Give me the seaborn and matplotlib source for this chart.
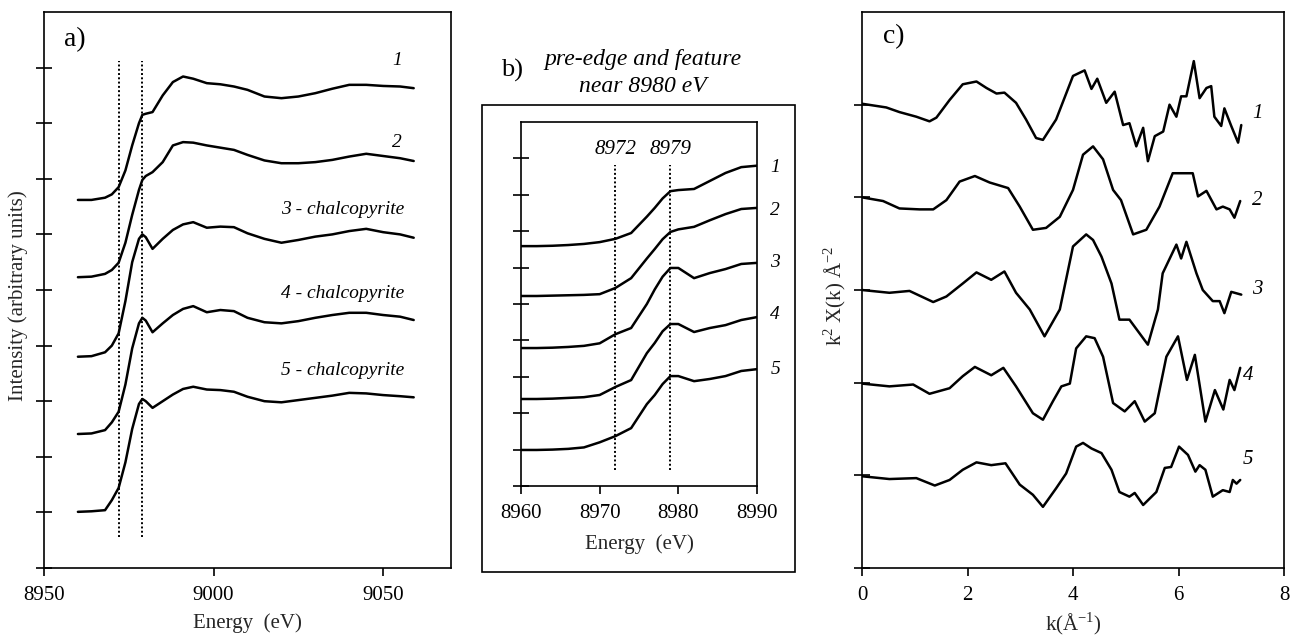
import numpy as np
import pandas as pd
import matplotlib
matplotlib.use("Agg")
import matplotlib.pyplot as plt
from matplotlib.patches import Rectangle
import seaborn as sns

# ---------------- data: panel a (XANES, full range) ----------------
energy_a = [8960, 8964, 8968, 8970, 8972, 8974, 8976, 8978, 8979, 8980, 8982, 8985,
            8988, 8991, 8994, 8998, 9002, 9006, 9010, 9015, 9020, 9025, 9030, 9035,
            9040, 9045, 9050, 9055, 9059]
a_curve1 = [6.62, 6.62, 6.66, 6.72, 6.85, 7.15, 7.60, 8.00, 8.15, 8.17, 8.20, 8.50,
            8.74, 8.84, 8.80, 8.72, 8.70, 8.66, 8.60, 8.48, 8.45, 8.48, 8.54, 8.62,
            8.69, 8.69, 8.67, 8.66, 8.63]
a_curve2 = [5.23, 5.24, 5.29, 5.36, 5.49, 5.85, 6.35, 6.80, 6.98, 7.05, 7.12, 7.30,
            7.60, 7.66, 7.65, 7.60, 7.56, 7.52, 7.43, 7.33, 7.28, 7.28, 7.30, 7.34,
            7.40, 7.45, 7.41, 7.37, 7.32]
a_curve3 = [3.80, 3.81, 3.88, 4.00, 4.22, 4.80, 5.50, 5.92, 6.00, 5.95, 5.74, 5.92,
            6.08, 6.18, 6.22, 6.12, 6.14, 6.13, 6.02, 5.92, 5.85, 5.90, 5.96, 6.00,
            6.06, 6.10, 6.04, 6.00, 5.94]
a_curve4 = [2.41, 2.42, 2.48, 2.62, 2.81, 3.30, 3.95, 4.40, 4.50, 4.45, 4.24, 4.40,
            4.55, 4.66, 4.71, 4.60, 4.64, 4.62, 4.50, 4.42, 4.40, 4.44, 4.50, 4.55,
            4.59, 4.59, 4.55, 4.52, 4.46]
a_curve5 = [1.01, 1.02, 1.04, 1.22, 1.44, 1.90, 2.50, 2.95, 3.04, 3.00, 2.88, 3.00,
            3.12, 3.22, 3.26, 3.21, 3.20, 3.17, 3.08, 3.00, 2.98, 3.02, 3.06, 3.10,
            3.15, 3.14, 3.11, 3.09, 3.07]
a_labels = ["1", "2", "3 - chalcopyrite", "4 - chalcopyrite", "5 - chalcopyrite"]
a_label_x = [9054, 9054, 9038, 9038, 9038]
a_label_y = [9.12, 7.66, 6.44, 4.93, 3.56]

feature_energies = [8972, 8979]

# ---------------- data: panel b (pre-edge zoom) ----------------
energy_b = [8960, 8962, 8964, 8966, 8968, 8970, 8972, 8974, 8976, 8977, 8978, 8979,
            8980, 8982, 8984, 8986, 8988, 8990]
b_curve1 = [6.59, 6.59, 6.60, 6.62, 6.65, 6.70, 6.79, 6.95, 7.40, 7.64, 7.90, 8.10,
            8.13, 8.16, 8.38, 8.60, 8.76, 8.80]
b_curve2 = [5.22, 5.22, 5.23, 5.24, 5.25, 5.27, 5.44, 5.71, 6.25, 6.51, 6.78, 6.98,
            7.05, 7.12, 7.30, 7.47, 7.61, 7.64]
b_curve3 = [3.79, 3.79, 3.80, 3.82, 3.85, 3.92, 4.17, 4.34, 5.00, 5.40, 5.75, 5.99,
            5.99, 5.71, 5.85, 5.96, 6.10, 6.13]
b_curve4 = [2.39, 2.39, 2.40, 2.42, 2.44, 2.50, 2.72, 2.91, 3.65, 3.93, 4.25, 4.45,
            4.45, 4.23, 4.34, 4.42, 4.56, 4.64]
b_curve5 = [0.99, 0.99, 1.00, 1.02, 1.06, 1.20, 1.37, 1.59, 2.25, 2.50, 2.80, 3.02,
            3.02, 2.88, 2.94, 3.02, 3.16, 3.21]
b_labels = ["1", "2", "3", "4", "5"]
b_label_y = [8.74, 7.58, 6.15, 4.70, 3.19]
b_label_x = 8992.3

# ---------------- data: panel c (EXAFS k^2 chi(k)) ----------------
k_c1 = [0, 0.46, 0.71, 1.03, 1.28, 1.41, 1.66, 1.91, 2.17, 2.36, 2.55, 2.70, 2.92, 3.11,
        3.30, 3.43, 3.68, 4.00, 4.22, 4.35, 4.46, 4.63, 4.79, 4.95, 5.07, 5.20, 5.33,
        5.42, 5.55, 5.71, 5.83, 5.96, 6.05, 6.15, 6.29, 6.40, 6.53, 6.62, 6.68, 6.81,
        6.87, 7.00, 7.13, 7.19]
chi_c1 = [5.01, 4.97, 4.92, 4.87, 4.82, 4.86, 5.05, 5.22, 5.25, 5.18, 5.12, 5.13, 5.02,
          4.84, 4.64, 4.62, 4.84, 5.31, 5.37, 5.17, 5.28, 5.02, 5.14, 4.78, 4.80, 4.55,
          4.75, 4.39, 4.66, 4.71, 5.00, 4.87, 5.09, 5.09, 5.47, 5.07, 5.18, 5.20, 4.87,
          4.77, 4.96, 4.77, 4.59, 4.78]
k_c2 = [0, 0.40, 0.71, 1.09, 1.35, 1.60, 1.85, 2.14, 2.42, 2.77, 2.99, 3.24, 3.49, 3.75,
        4.00, 4.19, 4.38, 4.57, 4.76, 4.91, 5.14, 5.39, 5.64, 5.89, 6.08, 6.27, 6.37,
        6.53, 6.72, 6.84, 6.97, 7.06, 7.17]
chi_c2 = [4.00, 3.96, 3.88, 3.87, 3.87, 3.97, 4.17, 4.23, 4.16, 4.10, 3.90, 3.65, 3.67,
          3.79, 4.08, 4.46, 4.55, 4.41, 4.08, 3.97, 3.60, 3.65, 3.90, 4.26, 4.26, 4.26,
          4.01, 4.07, 3.87, 3.90, 3.87, 3.78, 3.96]
k_c3 = [0, 0.52, 0.90, 1.35, 1.60, 1.91, 2.17, 2.45, 2.70, 2.92, 3.18, 3.46, 3.75, 4.00,
        4.25, 4.38, 4.54, 4.73, 4.88, 5.07, 5.42, 5.61, 5.70, 5.96, 6.05, 6.15, 6.34,
        6.46, 6.65, 6.78, 6.87, 7.00, 7.19]
chi_c3 = [3.00, 2.97, 2.99, 2.87, 2.93, 3.07, 3.19, 3.11, 3.20, 2.97, 2.79, 2.50, 2.79,
          3.47, 3.60, 3.54, 3.36, 3.07, 2.68, 2.68, 2.41, 2.79, 3.18, 3.49, 3.34, 3.52,
          3.18, 3.00, 2.88, 2.88, 2.75, 2.98, 2.95]
k_c4 = [0, 0.52, 0.97, 1.28, 1.66, 1.91, 2.14, 2.45, 2.68, 2.92, 3.24, 3.43, 3.62, 3.78,
        3.94, 4.06, 4.25, 4.41, 4.57, 4.76, 4.98, 5.17, 5.36, 5.55, 5.77, 5.99, 6.16,
        6.31, 6.51, 6.69, 6.85, 6.97, 7.06, 7.17]
chi_c4 = [1.99, 1.96, 1.98, 1.88, 1.94, 2.07, 2.17, 2.08, 2.16, 1.96, 1.67, 1.60, 1.80,
          1.96, 1.99, 2.37, 2.50, 2.48, 2.28, 1.78, 1.69, 1.80, 1.58, 1.67, 2.28, 2.50,
          2.03, 2.30, 1.58, 1.92, 1.71, 2.03, 1.92, 2.16]
k_c5 = [0, 0.52, 1.03, 1.38, 1.66, 1.91, 2.17, 2.45, 2.72, 2.99, 3.24, 3.43, 3.68, 3.87,
        4.06, 4.19, 4.35, 4.54, 4.73, 4.88, 5.07, 5.17, 5.33, 5.58, 5.74, 5.86, 6.01,
        6.18, 6.32, 6.40, 6.51, 6.65, 6.84, 6.97, 7.03, 7.10, 7.17]
chi_c5 = [0.99, 0.96, 0.97, 0.89, 0.95, 1.06, 1.14, 1.11, 1.13, 0.90, 0.79, 0.66, 0.86,
          1.02, 1.31, 1.35, 1.29, 1.24, 1.06, 0.82, 0.77, 0.81, 0.68, 0.82, 1.08, 1.09,
          1.31, 1.22, 1.04, 1.11, 1.06, 0.77, 0.84, 0.82, 0.95, 0.91, 0.95]
c_labels = ["1", "2", "3", "4", "5"]
c_label_x = [7.49, 7.49, 7.49, 7.32, 7.32]
c_label_y = [4.91, 3.97, 3.01, 2.08, 1.17]

# ---------------- style ----------------
sns.set_style("ticks")
plt.rcParams["font.family"] = ["Liberation Serif", "DejaVu Serif"]
plt.rcParams["mathtext.fontset"] = "custom"
plt.rcParams["mathtext.rm"] = "Liberation Serif"
plt.rcParams["axes.linewidth"] = 1.2
plt.rcParams["axes.edgecolor"] = "black"
plt.rcParams["xtick.color"] = "black"
plt.rcParams["ytick.color"] = "black"
plt.rcParams["text.color"] = "black"

W, H = 1294, 635
fig = plt.figure(figsize=(W / 100, H / 100), dpi=100)

def box(l, t, r, b):
    return [l / W, (H - b) / H, (r - l) / W, (b - t) / H]

ax_a = fig.add_axes(box(44, 12, 451, 568))
ax_b = fig.add_axes(box(521, 122, 757, 486))
ax_c = fig.add_axes(box(862, 12, 1284, 568))

LW = 1.8
TICKFS = 15

def draw(ax, x, y):
    df = pd.DataFrame({"x": x, "y": y})
    sns.lineplot(data=df, x="x", y="y", ax=ax, color="black", lw=LW,
                 sort=False, estimator=None, legend=False)

# ---- panel a ----
for ys in [a_curve1, a_curve2, a_curve3, a_curve4, a_curve5]:
    draw(ax_a, energy_a, ys)
ax_a.vlines(feature_energies, 0.56, 9.12, colors="black", linestyles=(0, (1, 1.2)), lw=1.4)
for lab, lx, ly in zip(a_labels, a_label_x, a_label_y):
    ax_a.text(lx, ly, lab, ha="center", va="center", fontsize=14, style="italic")
ax_a.text(8956, 9.5, "a)", fontsize=20, ha="left", va="center")
ax_a.set_xlim(8950, 9070)
ax_a.set_ylim(0, 10)
ax_a.set_xticks([8950, 9000, 9050])
ax_a.set_yticks(range(0, 10))
ax_a.set_yticklabels([])
ax_a.tick_params(axis="y", direction="inout", length=12, width=1.2)
ax_a.tick_params(axis="x", direction="out", length=6, width=1.2, labelsize=TICKFS, pad=7)
ax_a.set_xlabel("Energy  (eV)", fontsize=15, labelpad=6)
ax_a.set_ylabel("Intensity (arbitrary units)", fontsize=15)
ax_a.yaxis.set_label_coords((18 - 44) / 407, 0.49)
ax_a.yaxis.label.set_va("center")

# ---- panel b ----
for ys in [b_curve1, b_curve2, b_curve3, b_curve4, b_curve5]:
    draw(ax_b, energy_b, ys)
ax_b.vlines(feature_energies, 0.44, 8.82, colors="black", linestyles=(0, (1, 1.2)), lw=1.4)
for fe in feature_energies:
    ax_b.text(fe, 9.25, str(fe), ha="center", va="center", fontsize=15, style="italic")
for lab, ly in zip(b_labels, b_label_y):
    ax_b.text(b_label_x, ly, lab, ha="center", va="center", fontsize=14,
              style="italic", clip_on=False)
ax_b.set_xlim(8960, 8990)
ax_b.set_ylim(0, 10)
ax_b.set_xticks([8960, 8970, 8980, 8990])
ax_b.set_yticks(range(0, 10))
ax_b.set_yticklabels([])
ax_b.tick_params(axis="y", direction="inout", length=12, width=1.2)
ax_b.tick_params(axis="x", direction="out", length=6, width=1.2, labelsize=TICKFS, pad=7)
ax_b.set_xlabel("Energy  (eV)", fontsize=15, labelpad=8)
ax_b.set_ylabel("")

fig.add_artist(Rectangle((482 / W, (H - 572) / H), (795 - 482) / W, (572 - 105) / H,
                         transform=fig.transFigure, fill=False, edgecolor="black", lw=1.2))
fig.text(512 / W, (H - 70) / H, "b)", fontsize=19, ha="center", va="center")
fig.text(643 / W, (H - 60) / H, "pre-edge and feature", fontsize=17, style="italic",
         ha="center", va="center")
fig.text(643 / W, (H - 87) / H, "near 8980 eV", fontsize=17, style="italic",
         ha="center", va="center")

# ---- panel c ----
for ks, ys in [(k_c1, chi_c1), (k_c2, chi_c2), (k_c3, chi_c3), (k_c4, chi_c4), (k_c5, chi_c5)]:
    draw(ax_c, ks, ys)
for lab, lx, ly in zip(c_labels, c_label_x, c_label_y):
    ax_c.text(lx, ly, lab, ha="center", va="center", fontsize=15, style="italic")
ax_c.text(0.4, 5.73, "c)", fontsize=20, ha="left", va="center")
ax_c.set_xlim(0, 8)
ax_c.set_ylim(0, 6)
ax_c.set_xticks([0, 2, 4, 6, 8])
ax_c.set_yticks(range(0, 6))
ax_c.set_yticklabels([])
ax_c.tick_params(axis="y", direction="inout", length=12, width=1.2)
ax_c.tick_params(axis="x", direction="out", length=6, width=1.2, labelsize=TICKFS, pad=7)
ax_c.set_xlabel("k(Å$^{-1}$)", fontsize=15, labelpad=4)
ax_c.set_ylabel("k$^{2}$ X(k) Å$^{-2}$", fontsize=15)
ax_c.yaxis.set_label_coords((835 - 862) / 422, 0.49)
ax_c.yaxis.label.set_va("center")

for ax in (ax_a, ax_b, ax_c):
    for s in ax.spines.values():
        s.set_visible(True)
        s.set_linewidth(1.2)

fig.savefig("out.png", dpi=100, facecolor="white")
